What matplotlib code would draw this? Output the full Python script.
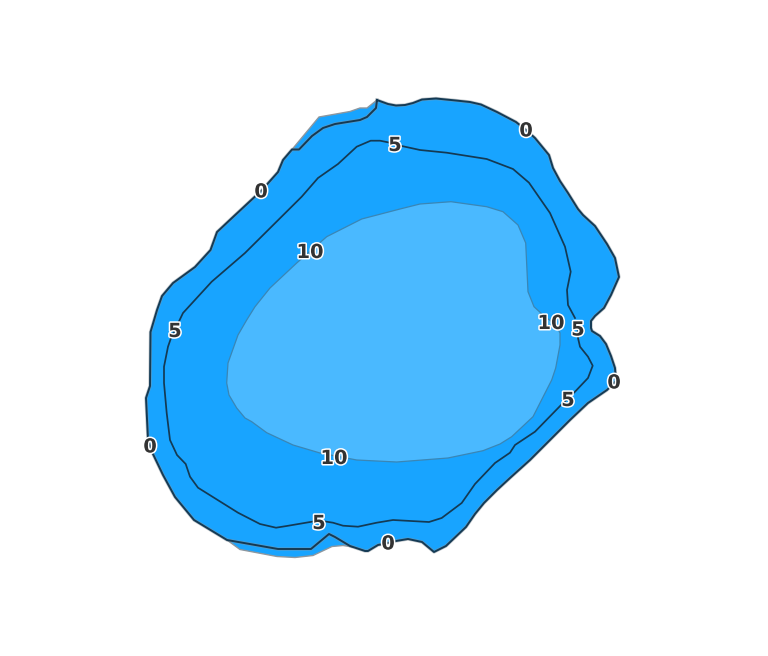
import matplotlib
matplotlib.use('Agg')
import matplotlib.pyplot as plt
import matplotlib.patheffects as pe

# contour outlines
level0 = [(377, 100), (388, 104), (396, 105.5), (405, 105), (413, 103), (422, 99.5), (436, 98.5), (456, 100.5),
          (470, 102), (481, 104.5), (497, 112), (516, 122), (526, 130), (535, 138), (549, 155), (553, 168),
          (560, 181), (568, 193), (578, 209), (583, 215), (595, 226), (607, 244), (615, 258), (619, 277),
          (611, 295), (604, 308), (595, 316), (591, 321), (591, 328), (592, 331), (600, 336), (606, 344),
          (611, 356), (615, 368), (616, 381), (607, 390), (588, 403), (570, 420), (550, 440), (530, 460),
          (510, 478), (497, 490), (484, 503), (475, 514), (466, 527), (446, 546), (434, 552), (422, 542),
          (408, 539), (396, 541), (388, 543), (378, 545), (368, 551), (365, 551), (350, 546), (335, 537),
          (329, 534), (311, 549), (278, 549), (227, 540), (194, 520), (175, 497), (163, 475), (152, 452),
          (148, 440), (146, 398), (150, 386), (150.5, 332), (157, 310), (162, 296), (173, 283), (195, 267),
          (210.5, 250), (217, 232), (233, 217), (262, 190), (278, 172), (283, 160), (292, 149.5), (299, 149.5),
          (312, 136), (323, 128), (335, 124), (360, 120), (367, 117), (376, 108), (377, 100)]
patch_top = [(292, 149.5), (319, 117), (350, 111.5), (360, 108), (367, 108), (377, 100), (376, 108), (367, 117),
             (360, 120), (335, 124), (323, 128), (312, 136), (299, 149.5)]
patch_bottom = [(227, 540), (240, 549.5), (277, 556.5), (295, 557.5), (313, 555.5), (332, 546.5), (343, 545.5),
                (353, 547), (350, 546), (335, 537), (329, 534), (311, 549), (278, 549)]
level5 = [(575, 318), (568, 305), (567, 290), (570.7, 271.7), (565, 246.7), (550, 213), (529, 182.7), (513, 169),
          (486.7, 159), (446.7, 152.7), (420, 150), (401.7, 146), (390, 142.7), (380, 140.7), (370.7, 140.7),
          (356.7, 146.7), (338, 164), (318, 178), (301.7, 196.7), (245, 253), (211.7, 281.7), (183, 313),
          (171, 338), (168, 346.7), (164, 366.7), (164, 383), (166.7, 413), (170, 440), (177, 455), (185.7, 464),
          (190, 476.7), (198, 487.7), (238, 512.7), (260, 524), (276, 527.7), (286.7, 526), (319, 520.5),
          (333, 522.7), (343, 525.7), (358, 526.7), (376.7, 522.7), (393, 520), (429, 522), (441.7, 518),
          (461.7, 503), (475, 484), (495, 463), (510, 452.7), (515, 445), (535, 431.7), (563, 403), (575, 391.7),
          (588, 378), (592.7, 365.7), (588, 356.7), (580, 346.7), (578, 338), (578, 330)]
level10 = [(246.7, 320), (255, 306.7), (270, 288), (296.7, 263), (326.7, 236.7), (361.7, 219), (400, 209),
           (420, 204), (451, 201.7), (486.7, 206.7), (503, 211.7), (518, 225), (525.7, 243), (528, 291.7),
           (534, 306.7), (543, 315), (556, 325), (560, 333), (560, 345), (555.7, 368), (551.7, 380), (533, 416.7),
           (511.7, 436.7), (500, 444), (483, 450.7), (448, 458), (396.7, 462), (356.7, 460), (320, 453), (293, 445),
           (266.7, 432.7), (251.7, 421.7), (245, 418), (236.7, 408), (229, 395), (226.7, 383), (228, 363),
           (238, 335), (246.7, 320)]

label_text = ['0', '0', '0', '0', '0', '5', '5', '5', '5', '5', '10', '10', '10']
label_x = [261, 526, 150, 388, 614, 395, 175, 319, 568, 578, 310, 334, 551]
label_y = [192, 131, 447, 544, 383, 145.5, 331.5, 523.5, 400.5, 330, 252.5, 458.5, 323.5]

fig = plt.figure(figsize=(7.68, 6.56), dpi=100)
ax = fig.add_axes([0, 0, 1, 1])
ax.set_xlim(0, 768)
ax.set_ylim(656, 0)
ax.axis('off')

fill_blue = '#18a4ff'
inner_blue = '#4ab9ff'
line_dark = '#143a54'

for patch in [patch_top, patch_bottom]:
    ax.fill(*zip(*patch), facecolor=fill_blue, edgecolor='#8d979f', linewidth=1.0, zorder=1)
ax.fill(*zip(*level0), facecolor=fill_blue, edgecolor='none', zorder=2)
ax.fill(*zip(*level10), facecolor=inner_blue, edgecolor='#3a86b5', linewidth=0.9, zorder=3)
ax.plot(*zip(*level0), color=line_dark, linewidth=1.4, zorder=4,
        path_effects=[pe.Stroke(linewidth=2.4, foreground='#8a949c', alpha=0.5), pe.Normal()])
ax.plot(*zip(*level5), color=line_dark, linewidth=1.25, zorder=4)

for s, x, y in zip(label_text, label_x, label_y):
    ax.text(x, y, s, ha='center', va='center', fontsize=14, fontweight='bold', color='#333333', zorder=5,
            path_effects=[pe.withStroke(linewidth=2.2, foreground='white')])

fig.savefig('out.png', dpi=100, facecolor='white')
